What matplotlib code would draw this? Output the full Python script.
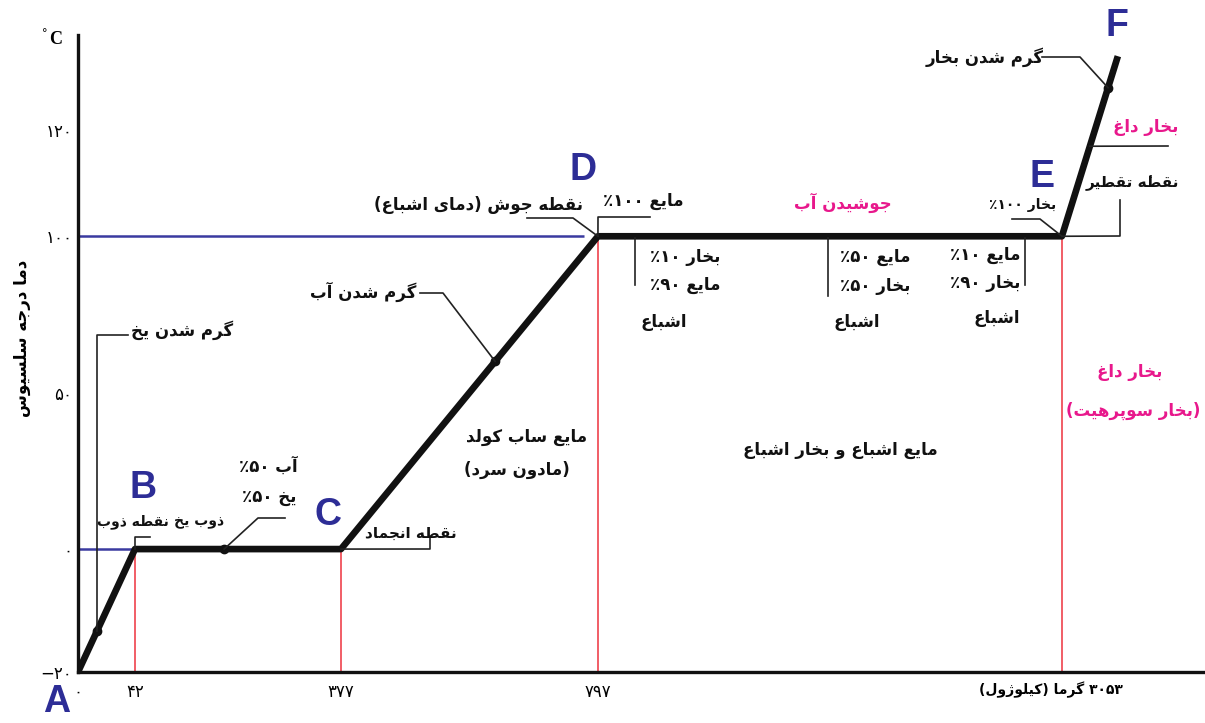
import re
import numpy as np
import matplotlib
matplotlib.use('Agg')
from matplotlib import pyplot as plt
from matplotlib.lines import Line2D

# heating curve of water: A B C D E F
heat = [0, 42, 377, 797, 3053, 3150]        # kJ
temp = [-20, 0, 0, 100, 100, 134]           # deg C
point_names = ['A', 'B', 'C', 'D', 'E', 'F']

x_ticks = [0, 42, 377, 797]
x_tick_labels = ['۰', '۴۲', '۳۷۷', '۷۹۷']
y_ticks = [-20, 0, 50, 100, 120]
y_tick_labels = ['−۲۰', '۰', '۵۰', '۱۰۰', '۱۲۰']

dot_heat = [14, 187, 629, 3133]             # marked points on the curve
hot_anchor_temp = 117                       # where the "superheated" leader meets E-F

W, H = 1205, 723

# ---- very small persian shaper (matplotlib has no arabic shaping / bidi)
FORMS = {
    'ا': (0xFE8D, 0xFE8E), 'آ': (0xFE81, 0xFE82), 'د': (0xFEA9, 0xFEAA),
    'ذ': (0xFEAB, 0xFEAC), 'ر': (0xFEAD, 0xFEAE), 'ز': (0xFEAF, 0xFEB0),
    'ژ': (0xFB8A, 0xFB8B), 'و': (0xFEED, 0xFEEE),
    'ب': (0xFE8F, 0xFE90, 0xFE91, 0xFE92), 'پ': (0xFB56, 0xFB57, 0xFB58, 0xFB59),
    'ت': (0xFE95, 0xFE96, 0xFE97, 0xFE98), 'ج': (0xFE9D, 0xFE9E, 0xFE9F, 0xFEA0),
    'خ': (0xFEA5, 0xFEA6, 0xFEA7, 0xFEA8), 'س': (0xFEB1, 0xFEB2, 0xFEB3, 0xFEB4),
    'ش': (0xFEB5, 0xFEB6, 0xFEB7, 0xFEB8), 'ط': (0xFEC1, 0xFEC2, 0xFEC3, 0xFEC4),
    'ع': (0xFEC9, 0xFECA, 0xFECB, 0xFECC), 'غ': (0xFECD, 0xFECE, 0xFECF, 0xFED0),
    'ق': (0xFED5, 0xFED6, 0xFED7, 0xFED8), 'ک': (0xFB8E, 0xFB8F, 0xFB90, 0xFB91),
    'گ': (0xFB92, 0xFB93, 0xFB94, 0xFB95), 'ل': (0xFEDD, 0xFEDE, 0xFEDF, 0xFEE0),
    'م': (0xFEE1, 0xFEE2, 0xFEE3, 0xFEE4), 'ن': (0xFEE5, 0xFEE6, 0xFEE7, 0xFEE8),
    'ه': (0xFEE9, 0xFEEA, 0xFEEB, 0xFEEC), 'ی': (0xFBFC, 0xFBFD, 0xFBFE, 0xFBFF),
}
MIRROR = {'(': ')', ')': '('}


def fa(s):
    out = []
    for i, c in enumerate(s):
        f = FORMS.get(c)
        if f is None:
            out.append(c)
            continue
        prev = s[i - 1] if i > 0 else ''
        nxt = s[i + 1] if i + 1 < len(s) else ''
        jp = prev in FORMS and len(FORMS[prev]) == 4
        jn = len(f) == 4 and nxt in FORMS
        k = 3 if (jp and jn) else 1 if jp else 2 if jn else 0
        out.append(chr(f[k]))
    runs = re.findall(r'[0-9۰-۹]+|[^0-9۰-۹]\u0654?', ''.join(out))
    runs.reverse()
    return ''.join(MIRROR.get(r, r) for r in runs)


# ---- schematic (non linear) axes
X_DATA = [-100, 0, 42, 377, 797, 3053, 3500]
X_PIX = [-136, 0, 57, 263, 520, 984, 1242]
Y_DATA = [-40, -20, 0, 100, 120, 200]
Y_PIX = [-123, 0, 123, 436, 542, 966]

fig = plt.figure(figsize=(W / 100, H / 100), dpi=100)
ax = fig.add_axes([78 / W, 51 / H, 1127 / W, 637 / H])
ax.set_xscale('function', functions=(lambda v: np.interp(v, X_DATA, X_PIX),
                                     lambda v: np.interp(v, X_PIX, X_DATA)))
ax.set_yscale('function', functions=(lambda v: np.interp(v, Y_DATA, Y_PIX),
                                     lambda v: np.interp(v, Y_PIX, Y_DATA)))
ax.set_xlim(0, 3301)
ax.set_ylim(-20, 138)

for s in ['top', 'right']:
    ax.spines[s].set_visible(False)
for s in ['left', 'bottom']:
    ax.spines[s].set_linewidth(2.4)
    ax.spines[s].set_color('#111111')

ax.set_xticks(x_ticks, x_tick_labels)
ax.set_yticks(y_ticks, y_tick_labels)
ax.tick_params(length=0, labelsize=12)
ax.tick_params(axis='x', pad=8)
ax.tick_params(axis='y', pad=4)
ax.minorticks_off()

# helper lines
red = '#f0505a'
blue = '#3a3aa0'
ax.vlines(heat[1:5], -20, temp[1:5], color=red, lw=1.3, zorder=1)
ax.hlines(0, 0, heat[1], color=blue, lw=1.8, zorder=1)
ax.hlines(100, 0, 775, color=blue, lw=1.8, zorder=1)

# the curve
ax.plot(heat, temp, color='#111111', lw=4.8, solid_capstyle='butt', zorder=3)
dot_temp = np.interp(dot_heat, heat[:4], temp[:4])
dot_temp[-1] = np.interp(dot_heat[-1], heat[4:], temp[4:])
ax.plot(dot_heat, dot_temp, 'o', color='#111111', ms=6, zorder=4)

# point letters
letter_off = [(-21, -30), (8, 61), (-13, 34), (-15, 66), (-20, 59), (-1, 30)]
for name, hx, ty, off in zip(point_names, heat, temp, letter_off):
    ax.annotate(name, (hx, ty), xytext=off, textcoords='offset pixels',
                ha='center', va='center', fontsize=27, fontweight='bold',
                color='#2d2d96', family=['Liberation Sans Narrow', 'Liberation Sans'],
                annotation_clip=False, zorder=5)

fig.canvas.draw()


def fig_pt(hx, ty):
    return fig.transFigure.inverted().transform(ax.transData.transform((hx, ty)))


def leader(pts, anchor=None):
    xy = [(x / W, 1 - y / H) for x, y in pts]
    if anchor is not None:
        xy.append(tuple(fig_pt(*anchor)))
    xs, ys = zip(*xy)
    fig.add_artist(Line2D(xs, ys, color='#222222', lw=1.2))


dots = list(zip(dot_heat, dot_temp))
pB, pC, pD, pE = [(heat[i], temp[i]) for i in range(1, 5)]
hot = (np.interp(hot_anchor_temp, temp[4:], heat[4:]), hot_anchor_temp)

leader([(128, 335), (97, 335)], dots[0])
leader([(150, 537), (135, 537)], pB)
leader([(285, 518), (258, 518)], dots[1])
leader([(430, 537), (430, 549)], pC)
leader([(420, 293), (443, 293)], dots[2])
leader([(527, 218), (573, 218)], pD)
leader([(650, 217), (598, 217)], pD)
leader([(1012, 219), (1040, 219)], pE)
leader([(1120, 200), (1120, 236)], pE)
leader([(1168, 146)], hot)
leader([(1042, 57), (1080, 57)], dots[3])
leader([(635, 238), (635, 285)])
leader([(828, 238), (828, 296)])
leader([(1025, 238), (1025, 285)])

# labels: text, x, y (reference pixels), colour, alignment, size
black, pink = '#111111', '#e8188c'
labels = [
    ('گرم شدن یخ', 182, 330, black, 'center', 12),
    ('نقطه ذوب', 169, 522, black, 'right', 10),
    ('ذوب یخ', 174, 522, black, 'left', 10),
    ('آب ۵۰٪', 298, 467, black, 'right', 12),
    ('یخ ۵۰٪', 296, 497, black, 'right', 12),
    ('نقطه انجماد', 411, 533, black, 'center', 11),
    ('گرم شدن آب', 363, 292, black, 'center', 12),
    ('نقطه جوش (دمای اشباع)', 479, 205, black, 'center', 12),
    ('مایع ۱۰۰٪', 643, 201, black, 'center', 12),
    ('جوشیدن آب', 843, 203, pink, 'center', 12),
    ('بخار ۱۰٪', 720, 257, black, 'right', 12),
    ('مایع ۹۰٪', 720, 285, black, 'right', 12),
    ('اشباع', 687, 322, black, 'right', 12),
    ('مایع ۵۰٪', 910, 257, black, 'right', 12),
    ('بخار ۵۰٪', 910, 286, black, 'right', 12),
    ('اشباع', 880, 322, black, 'right', 12),
    ('مایع ۱۰٪', 1020, 255, black, 'right', 12),
    ('بخار ۹۰٪', 1020, 283, black, 'right', 12),
    ('اشباع', 1020, 318, black, 'right', 12),
    ('بخار ۱۰۰٪', 1056, 205, black, 'right', 10),
    ('نقطه\u0654 تقطیر', 1132, 183, black, 'center', 11),
    ('بخار داغ', 1146, 127, pink, 'center', 12),
    ('گرم شدن بخار', 985, 57, black, 'center', 12),
    ('مایع ساب کولد', 527, 437, black, 'center', 12),
    ('(مادون سرد)', 517, 470, black, 'center', 12),
    ('مایع اشباع و بخار اشباع', 840, 450, black, 'center', 12),
    ('بخار داغ', 1130, 372, pink, 'center', 12),
    ('(بخار سوپرهیت)', 1133, 411, pink, 'center', 12),
]
for txt, x, y, col, ha, fs in labels:
    fig.text(x / W, 1 - y / H, fa(txt), color=col, ha=ha, va='center',
             fontsize=fs, fontweight='bold', family=['DejaVu Sans'])

fig.text(22 / W, 1 - 338 / H, fa('دما درجه سلسیوس'), rotation=90, ha='center',
         va='center', fontsize=12, fontweight='bold', family=['DejaVu Sans'])
fig.text(56 / W, 1 - 40 / H, 'C', ha='center', va='center', fontsize=13,
         fontweight='bold', family=['Liberation Serif'])
fig.text(45 / W, 1 - 33 / H, '°', ha='center', va='center', fontsize=8)
ax.annotate(fa('۳۰۵۳ گرما (کیلوژول)'), (heat[4], 0), xycoords=('data', 'axes fraction'),
            xytext=(61, -18), textcoords='offset pixels', ha='right', va='center',
            fontsize=10, fontweight='bold', family=['DejaVu Sans'], annotation_clip=False)

fig.savefig('out.png', dpi=100)
